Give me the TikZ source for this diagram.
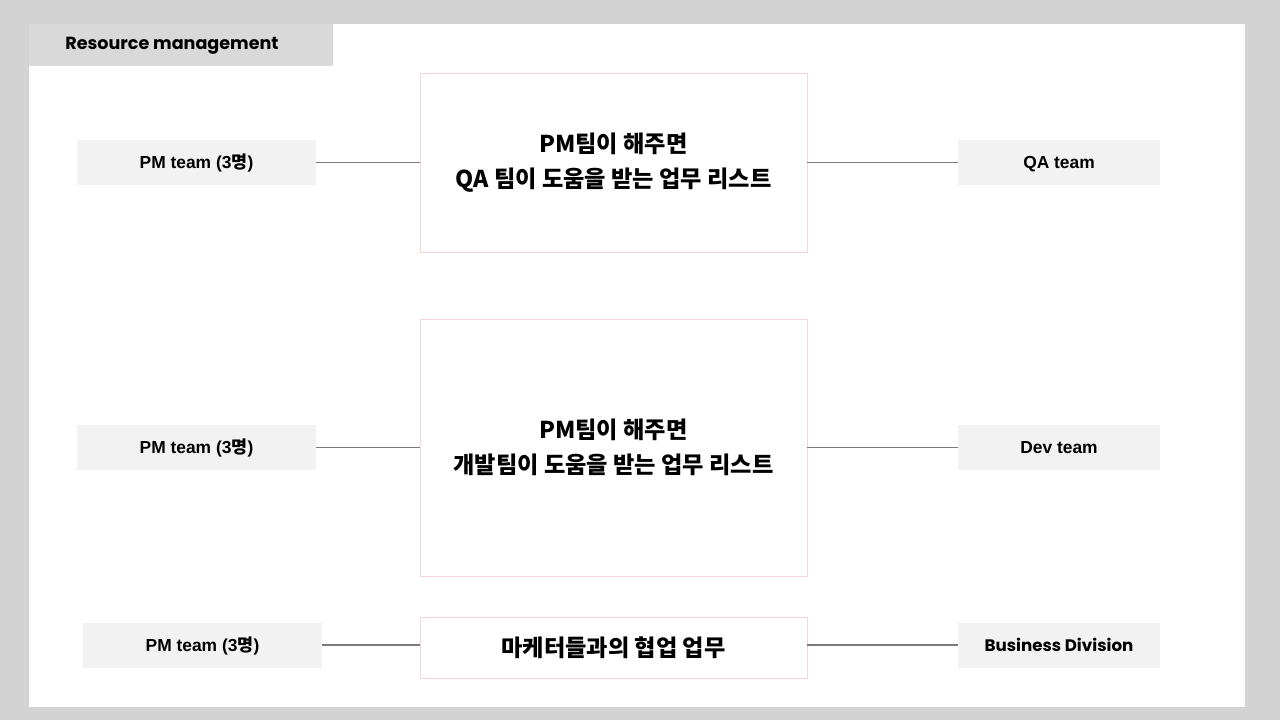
\documentclass[tikz,border=0pt]{standalone}
\usepackage{fontspec}
\setmainfont{Liberation Sans}
\newfontfamily\krfont{Noto Sans CJK KR}
\newfontfamily\popfont{Poppins}
\usetikzlibrary{positioning}

\definecolor{pagegray}{HTML}{D3D3D3}
\definecolor{tabgray}{HTML}{D9D9D9}
\definecolor{teamfill}{HTML}{F2F2F2}
\definecolor{listpink}{HTML}{F6D5D8}
\definecolor{linkgray}{HTML}{7A7A7A}

\begin{document}
\begin{tikzpicture}[
    x=0.02cm, y=-0.02cm,
    team/.style={fill=teamfill, inner sep=0pt, minimum height=0.9cm,
                 text height=0.72em, text depth=0pt,
                 font=\bfseries\fontsize{9.9}{11}\selectfont},
    pmteam/.style={team, minimum width=4.78cm},
    otherteam/.style={team, minimum width=4.04cm},
    worklist/.style={draw=listpink, fill=white, inner sep=0pt, align=center,
                     minimum width=7.74cm,
                     font=\krfont\bfseries\fontsize{13.2}{19.8}\selectfont},
    link/.style={draw=linkgray, line width=0.6pt}
  ]
  \fill[pagegray] (0,0) rectangle (1280,720);
  \useasboundingbox (0,0) rectangle (1280,720);
  \fill[white] (29,24) rectangle (1245,707);
  \fill[tabgray] (29,24) rectangle (333,66);
  \node[anchor=base west, inner sep=0pt, font=\popfont\bfseries\fontsize{10}{12}\selectfont]
    (title) at (65,49.5) {Resource management};

  % work lists in the middle
  \node[worklist, minimum height=3.58cm] (qalist) at (613.5,162.5)
    {PM팀이 해주면\\QA 팀이 도움을 받는 업무 리스트};
  \node[worklist, minimum height=5.14cm] (devlist) at (613.5,447.5)
    {PM팀이 해주면\\개발팀이 도움을 받는 업무 리스트};
  \node[worklist, minimum height=1.22cm] (mktlist) at (613.5,647.5)
    {마케터들과의 협업 업무};

  % teams on both sides
  \node[pmteam] (pm1) at (196.5,162.5) {PM team (3{\krfont 명})};
  \node[pmteam] (pm2) at (196.5,447.5) {PM team (3{\krfont 명})};
  \node[pmteam] (pm3) at (202.5,645)   {PM team (3{\krfont 명})};
  \node[otherteam] (qa)  at (1059,162.5) {QA team};
  \node[otherteam] (dev) at (1059,447.5) {Dev team};
  \node[otherteam, font=\popfont\bfseries\fontsize{9.5}{11}\selectfont]
    (biz) at (1059,645) {Business Division};

  \draw[link] (pm1.east) -- (qalist.west);
  \draw[link] (qalist.east) -- (qa.west);
  \draw[link] (pm2.east) -- (devlist.west);
  \draw[link] (devlist.east) -- (dev.west);
  \draw[link] (pm3.east) -- (pm3.east -| mktlist.west);
  \draw[link] (biz.west -| mktlist.east) -- (biz.west);
\end{tikzpicture}
\end{document}
